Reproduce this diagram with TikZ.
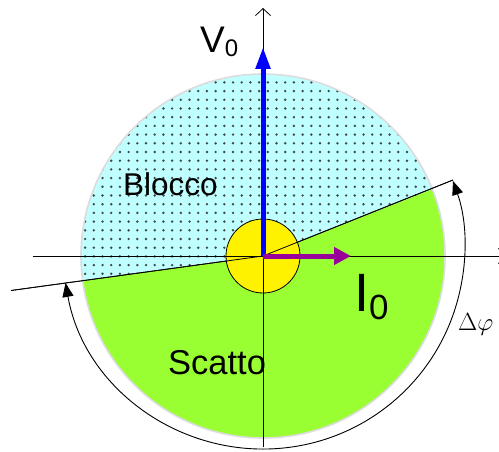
\documentclass[tikz,border=0pt]{standalone}
\usepackage{fontspec}
\setmainfont{Liberation Sans}
\usetikzlibrary{arrows.meta,calc}
\definecolor{blockcyan}{HTML}{C0FFFF}
\definecolor{firegreen}{HTML}{99FF33}
\definecolor{diskrim}{HTML}{DCDCDC}
\definecolor{dotgray}{HTML}{404848}
\definecolor{curpurple}{HTML}{990099}
\definecolor{voltblue}{HTML}{0000FF}
\tikzset{
  axisline/.style={line width=0.8pt,black},
  phasor/.style={line width=5pt},
  lbl/.style={inner sep=0pt,anchor=base west,text=black},
}
\begin{document}
\begin{tikzpicture}[x=1pt,y=-1pt]
\clip (0,0) rectangle (499,452);
\coordinate (O) at (263,256);
\coordinate (ArcC) at (263.5,248);
% sectors
\fill[firegreen] (O) -- ++(-21.6:182) arc[start angle=-21.6,end angle=172.3,radius=182] -- cycle;
\fill[blockcyan] (O) -- ++(172.3:182) arc[start angle=172.3,end angle=338.4,radius=182] -- cycle;
% dots in the blue sector
\begin{scope}
\clip (O) -- ++(172.3:182) arc[start angle=172.3,end angle=338.4,radius=182] -- cycle;
\foreach \i in {-8,...,35}{
  \foreach \j in {-5,...,21}{
    \fill[dotgray] ({146+8.7*\i},{108.5+8.7*\j}) circle[radius=1.35];
  }
}
\end{scope}
\draw[diskrim,line width=1.6pt] (O) circle[radius=182];
% axes
\coordinate (HL) at (33,256);
\coordinate (HR) at (506,256);
\coordinate (VB) at (263,447);
\coordinate (VT) at (263,8);
\draw[axisline,-{Straight Barb[length=7pt,width=15pt]}] (HL) -- (HR);
\draw[axisline,-{Straight Barb[length=7pt,width=15pt]}] (VB) -- (VT);
% boundary lines
\coordinate (LL) at (11,290.5);
\coordinate (RL) at (453,180);
\draw[axisline] (LL) -- (O) -- (RL);
% yellow circle
\node[circle,draw=black,line width=0.8pt,fill=yellow,minimum size=74pt,inner sep=0pt] (Y) at (O) {};
\draw[axisline] (Y.north) -- (Y.south);
\draw[axisline] (Y.west) -- (Y.east);
\draw[axisline] (O) -- (RL);
\draw[axisline] (O) -- (LL);
% phasors
\coordinate (Vtip) at (263,47);
\coordinate (Itip) at (351,256);
\draw[phasor,voltblue,-{Triangle[length=22pt,width=14pt]}] (O) -- (Vtip);
\draw[phasor,curpurple,-{Triangle[length=17pt,width=17pt]}] (O) -- (Itip);
% angle arc
\draw[line width=0.9pt,{Triangle[length=14pt,width=11pt]}-{Triangle[length=14pt,width=11pt]}]
  ($(ArcC)+(170:201)$) arc[start angle=170,end angle=-19.5,radius=201];
% labels
\node[lbl,font=\fontsize{31.5}{31.5}\selectfont] (blocco) at (123,196) {Blocco};
\node[lbl,font=\fontsize{34.5}{34.5}\selectfont] (scatto) at (168,374) {Scatto};
\node[lbl,font=\fontsize{37}{37}\selectfont] (v0) at (200,53) {V\raisebox{-4pt}{\fontsize{24}{24}\selectfont 0}};
\node[lbl,font=\fontsize{54}{54}\selectfont] (i0) at (354,311) {I\raisebox{-9pt}{\fontsize{35}{35}\selectfont 0}};
\node[lbl,font=\fontsize{27}{27}\selectfont] (dphi) at (458,330) {$\Delta\varphi$};
\end{tikzpicture}
\end{document}
